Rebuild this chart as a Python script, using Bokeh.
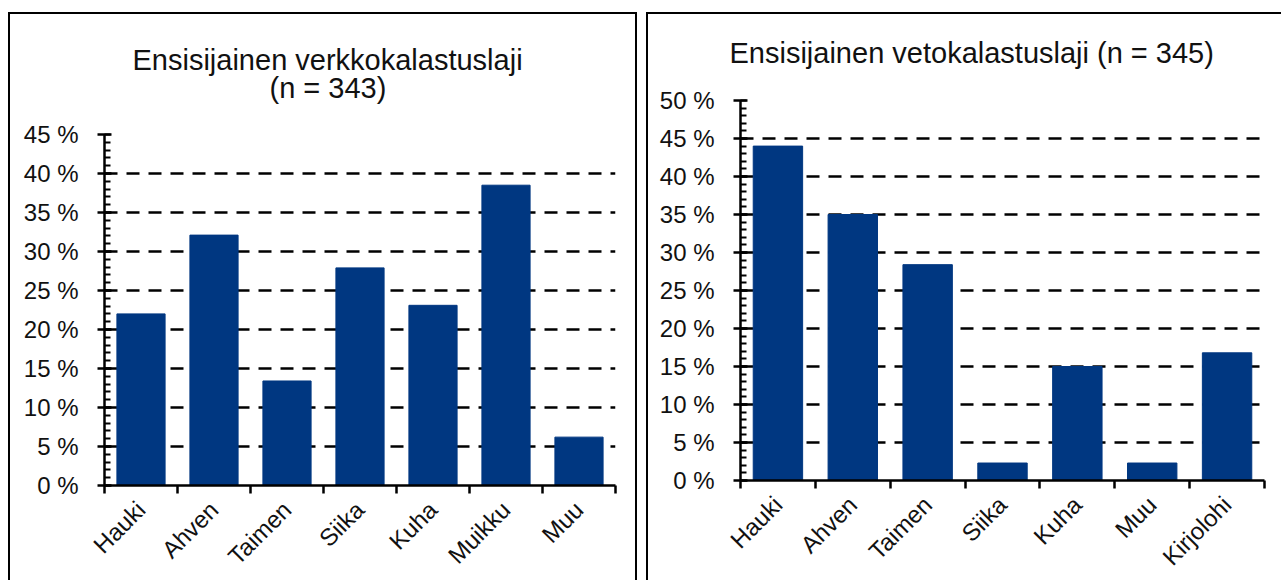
import math
from bokeh.plotting import figure
from bokeh.layouts import row, column
from bokeh.models import FixedTicker, Range1d, Title
from bokeh.embed import file_html
from bokeh.resources import INLINE

# ---- data ----
left_title_lines = ["Ensisijainen verkkokalastuslaji", "(n = 343)"]
left_categories = ["Hauki", "Ahven", "Taimen", "Siika", "Kuha", "Muikku", "Muu"]
left_values = [22.0, 32.1, 13.4, 27.9, 23.1, 38.5, 6.2]
left_ymax = 45

right_title_lines = ["Ensisijainen vetokalastuslaji (n = 345)"]
right_categories = ["Hauki", "Ahven", "Taimen", "Siika", "Kuha", "Muu", "Kirjolohi"]
right_values = [44.0, 35.0, 28.4, 2.3, 15.0, 2.3, 16.8]
right_ymax = 50

BAR = "#003781"
FONT = "Liberation Sans"
TXT = "#111111"
NBSP = "\u00a0"


def make_panel(title_text, title_offset, gap, cats, vals, ymax,
               width, height, borders, extra_styles):
    n = len(cats)
    xs = [i + 0.5 for i in range(n)]
    p = figure(width=width, height=height, output_backend="svg", toolbar_location=None,
               x_range=Range1d(0, n), y_range=Range1d(0, ymax),
               min_border_left=borders[0], min_border_right=borders[1],
               min_border_top=borders[2], min_border_bottom=borders[3],
               styles=extra_styles)
    p.outline_line_color = None
    # spacer between frame and title, then the title itself
    p.add_layout(Title(text=NBSP, text_font_size="2px", standoff=gap), "above")
    p.add_layout(Title(text=title_text, align="left", offset=title_offset, standoff=0,
                       text_font=FONT, text_font_size="29px", text_font_style="normal",
                       text_color=TXT, text_line_height=0.88), "above")

    p.vbar(x=xs, top=vals, width=0.66, fill_color=BAR, line_color=BAR)

    # x axis
    xa = p.xaxis[0]
    xa.ticker = FixedTicker(ticks=xs, minor_ticks=list(range(n + 1)))
    xa.major_label_overrides = {x: c for x, c in zip(xs, cats)}
    xa.major_label_orientation = math.pi / 4
    xa.major_tick_in = 0
    xa.major_tick_out = 0
    xa.minor_tick_in = 0
    xa.minor_tick_out = 8
    xa.minor_tick_line_width = 2.5
    xa.minor_tick_line_color = "black"
    xa.axis_line_width = 2.5
    xa.axis_line_color = "black"
    xa.major_label_text_font = FONT
    xa.major_label_text_font_size = "24px"
    xa.major_label_text_color = TXT
    xa.major_label_standoff = 12

    # y axis
    ya = p.yaxis[0]
    ya.ticker = FixedTicker(ticks=list(range(0, ymax + 1, 5)), minor_ticks=list(range(0, ymax + 1)))
    ya.major_label_overrides = {v: f"{v} %" for v in range(0, ymax + 1, 5)}
    ya.major_tick_in = 7
    ya.major_tick_out = 7
    ya.major_tick_line_width = 2.5
    ya.minor_tick_in = 6
    ya.minor_tick_out = 0
    ya.minor_tick_line_width = 2
    ya.axis_line_width = 2.5
    ya.axis_line_color = "black"
    ya.major_label_text_font = FONT
    ya.major_label_text_font_size = "24px"
    ya.major_label_text_color = TXT
    ya.major_label_standoff = 19

    p.xgrid.grid_line_color = None
    p.ygrid.grid_line_color = "black"
    p.ygrid.grid_line_width = 2.5
    p.ygrid.grid_line_dash = "13 9"
    p.background_fill_color = "white"
    p.border_fill_color = "white"
    return p


# second line centred under the first by leading no-break spaces
left_title = left_title_lines[0] + "\n" + NBSP * 17 + left_title_lines[1]
right_title = right_title_lines[0]

p1 = make_panel(left_title, 28, 26, left_categories, left_values, left_ymax,
                629, 568, (94, 24, 120, 96),
                {"border": "2px solid black", "border-bottom": "none"})
p2 = make_panel(right_title, -11, 28, right_categories, right_values, right_ymax,
                635, 568, (92, 19, 86, 100),
                {"border": "2px solid black", "border-bottom": "none", "border-right": "none"})

layout = row(column(p1), column(p2), spacing=9, margin=(12, 0, 0, 8))
open("out.html", "w").write(file_html(layout, INLINE))
